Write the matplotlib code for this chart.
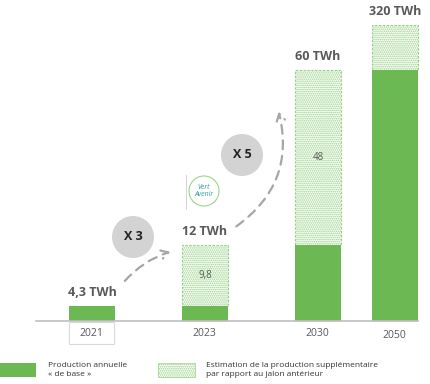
import matplotlib.pyplot as plt
from matplotlib.patches import Circle, Rectangle, FancyArrowPatch

# schematic chart: heights are the drawn heights (not to scale)
years = ['2021', '2023', '2030', '2050']
base = [15, 15, 76, 251]        # "production de base"
extra = [0, 61, 175, 45]        # estimated extra production
totals = ['4,3 TWh', '12 TWh', '60 TWh', '320 TWh']
extra_labels = ['', '9,8', '48', '']
growth = ['X 3', 'X 5']

green = '#6cb853'
hatch_green = '#96d183'
grey_txt = '#595959'

plt.rcParams['font.family'] = ['Open Sans', 'DejaVu Sans']
plt.rcParams['hatch.linewidth'] = 0.8

fig = plt.figure(figsize=(4.31, 3.84), dpi=100)
ax = fig.add_axes([0, 0, 1, 1])
ax.set_xlim(0, 431)
ax.set_ylim(-63, 321)
ax.axis('off')

xs = [92, 205, 318, 395]
w = 46

ax.bar(xs, base, width=w, color=green, zorder=3)
ax.bar(xs, extra, width=w, bottom=base, facecolor='white', edgecolor=hatch_green,
       hatch='........', linestyle=(0, (2, 1.5)), linewidth=0.8, zorder=2)

ax.plot([36, 418], [0, 0], color='#bfbfbf', lw=1.2, zorder=4)

for i, x in enumerate(xs):
    top = base[i] + extra[i]
    ax.text(x, top + 7, totals[i], ha='center', va='bottom', fontsize=9,
            fontweight='bold', color=grey_txt)
    if extra_labels[i]:
        ax.text(x, base[i] + extra[i] / 2, extra_labels[i],
                ha='center', va='center', fontsize=7, color=grey_txt, zorder=5)
    yy = -13 if i < 3 else -15
    ax.text(x - 1, yy, years[i], ha='center', va='center', fontsize=7.5, color=grey_txt)

# box around 2021
ax.add_patch(Rectangle((69, -23), 45, 22, fill=False, edgecolor='#d9d9d9', lw=0.8))

# growth circles
for (cx, cy), lab in zip([(133, 84), (242, 166)], growth):
    ax.add_patch(Circle((cx, cy), 21, facecolor='#d3d3d3', edgecolor='none', zorder=5))
    ax.text(cx, cy, lab, ha='center', va='center', fontsize=9, fontweight='bold',
            color='#222222', zorder=6)

# dashed curved arrows
a1 = FancyArrowPatch((123, 38), (173, 70), connectionstyle='arc3,rad=-0.15',
                     arrowstyle='->,head_length=5,head_width=3', linestyle=(0, (4, 3)),
                     color='#a6a6a6', lw=1.6, mutation_scale=1)
a2 = FancyArrowPatch((234, 93), (278, 212), connectionstyle='arc3,rad=0.35',
                     arrowstyle='->,head_length=5,head_width=3', linestyle=(0, (4, 3)),
                     color='#a6a6a6', lw=1.6, mutation_scale=1)
ax.add_patch(a1)
ax.add_patch(a2)

# small "Vert Avenir" logo
ax.add_patch(Circle((204, 130), 15, fill=False, edgecolor='#9fd48a', lw=0.8))
ax.plot([186, 186], [112, 146], color='#cccccc', lw=0.6)
ax.text(204, 130, 'Vert\nAvenir', ha='center', va='center', fontsize=5,
        style='italic', color='#2aa198', linespacing=0.9)

# legend
ax.add_patch(Rectangle((0, -56), 36, 14, facecolor=green, edgecolor='none'))
ax.text(48, -49, 'Production annuelle\n« de base »', ha='left', va='center',
        fontsize=6, color='#333333', linespacing=1.3)
ax.add_patch(Rectangle((158, -56), 37, 14, facecolor='white', edgecolor=hatch_green,
                       hatch='........', linewidth=0.5))
ax.text(206, -49, 'Estimation de la production supplémentaire\npar rapport au jalon antérieur',
        ha='left', va='center', fontsize=6, color='#333333', linespacing=1.3)

fig.savefig('out.png', dpi=100)
